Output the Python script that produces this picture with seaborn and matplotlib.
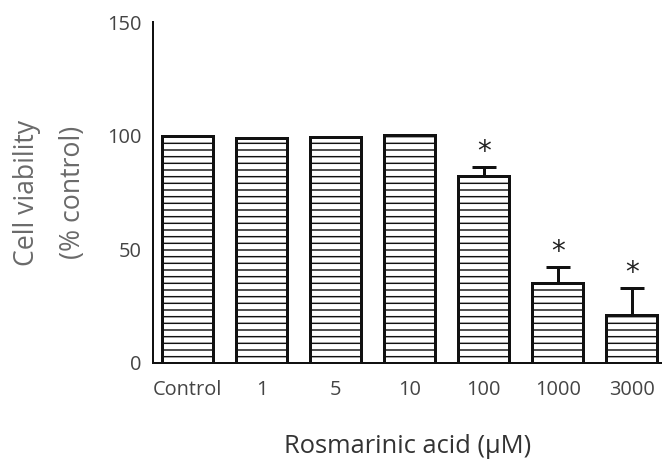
import matplotlib
matplotlib.use("Agg")
import matplotlib.pyplot as plt
import seaborn as sns
import pandas as pd

categories = ["Control", "1", "5", "10", "100", "1000", "3000"]
viability = [100, 99, 99.5, 100.3, 82.3, 35.2, 21.1]
err_up = [0, 0, 0, 0, 4.0, 7.0, 12.0]
significant = [False, False, False, False, True, True, True]
yticks = [0, 50, 100, 150]

sns.set_theme(style="white")
plt.rcParams["font.family"] = ["Open Sans", "DejaVu Sans"]
plt.rcParams["hatch.linewidth"] = 1.3
plt.rcParams["hatch.color"] = "#2a2a2a"

DPI = 80
fig = plt.figure(figsize=(662 / DPI, 463 / DPI), dpi=DPI)
ax = fig.add_axes([0.231, 0.216, 0.768, 0.736])

df = pd.DataFrame({"conc": categories, "viab": viability})
sns.barplot(data=df, x="conc", y="viab", order=categories, ax=ax,
            color="white", edgecolor="#111111", linewidth=2.7,
            width=0.69, errorbar=None, zorder=2)
for p in ax.patches:
    p.set_hatch("--")
    p.set_facecolor("white")

xs = list(range(len(categories)))
ax.errorbar(xs, viability, yerr=[[0] * len(err_up), err_up], fmt="none",
            ecolor="#111111", elinewidth=2.7, capsize=11, capthick=2.7, zorder=1)
for x, v, e, s in zip(xs, viability, err_up, significant):
    if s:
        ax.text(x, v + e + 3.0, "*", ha="center", va="baseline",
                fontsize=25, color="#222222", family="DejaVu Sans")

ax.set_ylim(0, 150)
ax.set_xlim(-0.47, 6.4)
ax.set_yticks(yticks)
ax.set_yticklabels([str(t) for t in yticks])
sns.despine(ax=ax)
for sp in ["left", "bottom"]:
    ax.spines[sp].set_linewidth(1.8)
    ax.spines[sp].set_color("#111111")
ax.tick_params(axis="y", length=9, width=1.6, pad=1, labelsize=18, colors="#111111", labelcolor="#444444")
ax.tick_params(axis="x", length=5, width=1.6, pad=10, labelsize=18, colors="#111111", labelcolor="#444444")
ax.set_xlabel("Rosmarinic acid (\u03bcM)", fontsize=23, color="#333333", labelpad=31)
ax.set_ylabel("Cell viability\n(% control)", fontsize=24, color="#6a6a6a",
              labelpad=18, linespacing=1.85)

fig.savefig("out.png", dpi=DPI)
